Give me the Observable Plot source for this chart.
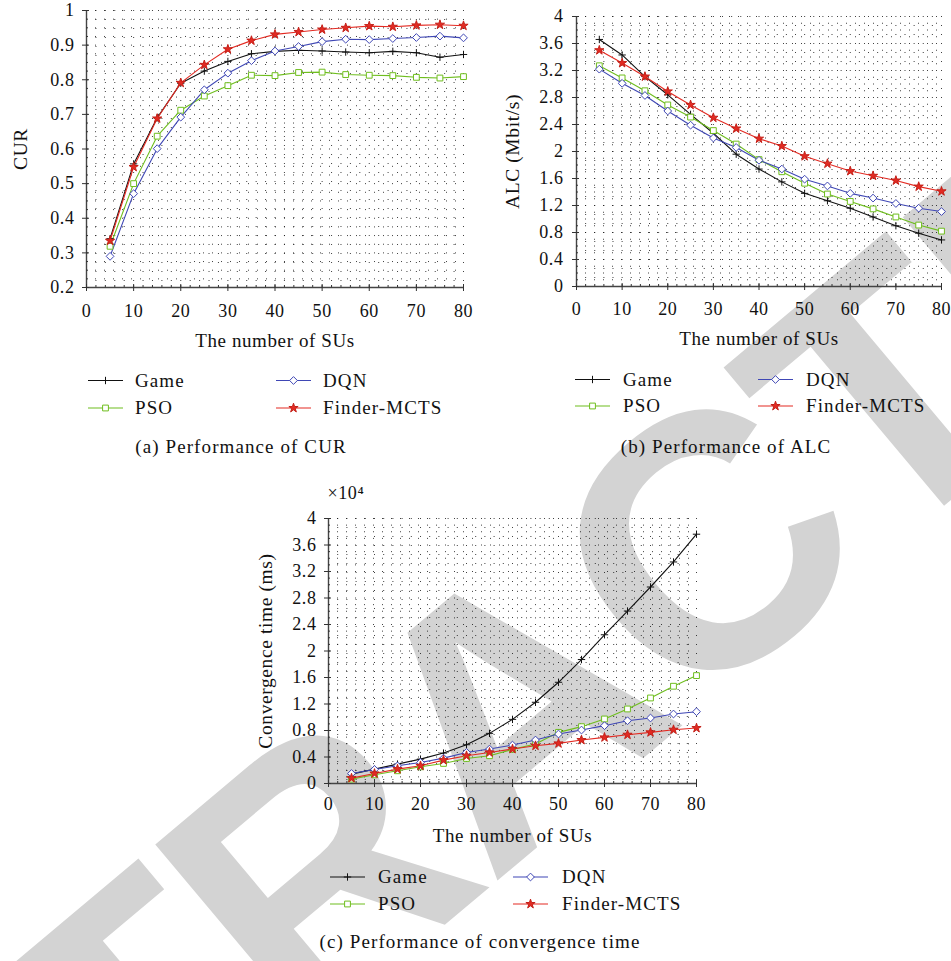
<!DOCTYPE html>
<html>
<head>
<meta charset="utf-8">
<script src="https://cdn.jsdelivr.net/npm/d3@7"></script>
<script src="https://cdn.jsdelivr.net/npm/@observablehq/plot@0.6"></script>
<style>
  html, body { margin: 0; padding: 0; background: #fff; }
  #root { position: relative; width: 951px; height: 961px; overflow: hidden; background: #fff; }
  .layer { position: absolute; }
</style>
</head>
<body>
<div id="root"></div>
<script>
// ---------- data ----------
const suCounts = [5, 10, 15, 20, 25, 30, 35, 40, 45, 50, 55, 60, 65, 70, 75, 80];
const methods = ["Game", "PSO", "DQN", "Finder-MCTS"];
const methodColors = ["#111111", "#6fbe1e", "#3f47b5", "#e32a22"];

const curGame = [0.341, 0.557, 0.690, 0.790, 0.825, 0.853, 0.875, 0.882, 0.885, 0.883, 0.880, 0.878, 0.882, 0.878, 0.865, 0.873];
const curPSO  = [0.319, 0.500, 0.637, 0.712, 0.753, 0.783, 0.813, 0.812, 0.821, 0.822, 0.815, 0.813, 0.812, 0.807, 0.805, 0.809];
const curDQN  = [0.290, 0.471, 0.601, 0.692, 0.771, 0.819, 0.855, 0.883, 0.896, 0.910, 0.917, 0.916, 0.919, 0.922, 0.926, 0.921];
const curMCTS = [0.335, 0.548, 0.688, 0.791, 0.843, 0.888, 0.913, 0.931, 0.938, 0.945, 0.950, 0.955, 0.953, 0.957, 0.959, 0.956];

const alcGame = [3.66, 3.43, 3.11, 2.84, 2.55, 2.27, 1.96, 1.74, 1.55, 1.38, 1.27, 1.16, 1.03, 0.90, 0.79, 0.69];
const alcPSO  = [3.27, 3.09, 2.90, 2.69, 2.51, 2.31, 2.11, 1.88, 1.70, 1.53, 1.37, 1.26, 1.15, 1.03, 0.91, 0.82];
const alcDQN  = [3.22, 3.01, 2.83, 2.60, 2.39, 2.20, 2.06, 1.87, 1.74, 1.59, 1.49, 1.38, 1.31, 1.23, 1.16, 1.11];
const alcMCTS = [3.50, 3.31, 3.11, 2.89, 2.69, 2.50, 2.34, 2.19, 2.08, 1.93, 1.82, 1.71, 1.64, 1.57, 1.48, 1.41];

// convergence time in ms
const convGame = [1410, 2170, 2930, 3680, 4590, 5850, 7570, 9680, 12260, 15280, 18710, 22450, 26030, 29660, 33440, 37630];
const convPSO  = [660, 1310, 1920, 2520, 3030, 3780, 4190, 5150, 5950, 7720, 8580, 9740, 11250, 12910, 14680, 16290];
const convDQN  = [1510, 2120, 2670, 3180, 3830, 4690, 5200, 5800, 6560, 7470, 8070, 8730, 9480, 9890, 10490, 10840];
const convMCTS = [810, 1510, 2170, 2670, 3530, 4190, 4690, 5200, 5700, 6050, 6560, 6960, 7360, 7720, 8120, 8370];

const xTickValues = [0, 10, 20, 30, 40, 50, 60, 70, 80];
const curTickValues = [0.2, 0.3, 0.4, 0.5, 0.6, 0.7, 0.8, 0.9, 1];
const alcTickValues = [0, 0.4, 0.8, 1.2, 1.6, 2, 2.4, 2.8, 3.2, 3.6, 4];
const convTickValues = [0, 0.4, 0.8, 1.2, 1.6, 2, 2.4, 2.8, 3.2, 3.6, 4];

const xAxisTitle = "The number of SUs";
const yTitles = ["CUR", "ALC (Mbit/s)", "Convergence time (ms)"];
const captions = ["(a) Performance of CUR", "(b) Performance of ALC", "(c) Performance of convergence time"];
const convMultiplier = "×10⁴";
const watermarkText = "RETRACTED";

// ---------- helpers ----------
const xMinor = d3.range(0, 81, 2);
const curMinor = d3.range(8, 41).map(i => +(i * 0.025).toFixed(3));
const tenthMinor = d3.range(0, 41).map(i => +(i * 0.1).toFixed(2));

const symbolNames = ["plus", "square2", "diamond2", "star"];
const symbolR = [2.5, 3.7, 3.5, 2.9];
const symbolFill = ["none", "white", "white", "#e32a22"];
const symbolStroke = ["#111111", "#6fbe1e", "#3f47b5", "#c42018"];
const d3Symbols = [d3.symbolPlus, d3.symbolSquare2, d3.symbolDiamond2, d3.symbolStar];

const serif = '"Liberation Serif", "Times New Roman", serif';
const fmt = d3.format("~g");

function buildPanel(cfg) {
  const rows = [];
  methods.forEach((m, i) => cfg.series[i].forEach((v, j) => rows.push({method: m, su: suCounts[j], value: v / cfg.div})));
  const gridStyle = {stroke: "#111", strokeOpacity: 0.8, strokeDasharray: "1,8", strokeWidth: 1};
  const marks = [
    Plot.gridX(xMinor, gridStyle),
    Plot.gridY(cfg.yMinor, gridStyle),
    Plot.ruleX([0], {stroke: "#444", strokeWidth: 1.4}),
    Plot.ruleY([cfg.yDomain[0]], {stroke: "#444", strokeWidth: 1.4}),
    Plot.axisX(xMinor, {tickSize: 2, dy: -2, fill: "none", stroke: "#333"}),
    Plot.axisX(xTickValues, {tickSize: 7, dy: -3, fill: "none", stroke: "#333"}),
    Plot.axisX(xTickValues, {tickSize: 0, tickPadding: cfg.xPad, stroke: "none", label: null, tickFormat: fmt, fill: "#111"}),
    Plot.axisY(cfg.yMinor, {tickSize: 2, dx: 2, fill: "none", stroke: "#333"}),
    Plot.axisY(cfg.yTicks, {tickSize: 7, dx: 3, fill: "none", stroke: "#333"}),
    Plot.axisY(cfg.yTicks, {tickSize: 0, tickPadding: cfg.yPad, stroke: "none", label: null, tickFormat: fmt, fill: "#111"}),
    Plot.text([cfg.yLabel], {text: d => d, frameAnchor: "left", textAnchor: "middle", dx: cfg.yLabelDx, rotate: -90, lineAnchor: "middle", fontSize: 19.5, fill: "#111"}),
    Plot.text([xAxisTitle], {text: d => d, frameAnchor: "bottom", textAnchor: "middle", dy: cfg.xLabelDy, lineAnchor: "middle", fontSize: 19, fill: "#111"}),
    ...(cfg.extra || []),
    Plot.line(rows, {x: "su", y: "value", z: "method", stroke: "method", strokeWidth: 1.1}),
    ...methods.map((m, i) => Plot.dot(rows.filter(d => d.method === m), {
      x: "su", y: "value", symbol: symbolNames[i], r: symbolR[i],
      stroke: symbolStroke[i], fill: symbolFill[i], strokeWidth: 1
    }))
  ];
  return Plot.plot({
    width: cfg.width, height: cfg.height,
    marginLeft: cfg.ml, marginRight: cfg.mr, marginTop: cfg.mt, marginBottom: cfg.mb,
    style: {fontFamily: serif, fontSize: "18px", letterSpacing: "0.6px", background: "transparent", overflow: "visible", color: "#111"},
    x: {domain: [0, 80], label: null},
    y: {domain: cfg.yDomain, label: null},
    color: {domain: methods, range: methodColors},
    marks
  });
}

const root = document.getElementById("root");

// watermark (behind everything)
const wm = d3.select(root).append("svg").attr("class", "layer")
  .attr("width", 951).attr("height", 961).style("left", "0px").style("top", "0px");
wm.append("text")
  .attr("transform", "translate(505,706) rotate(-40)")
  .attr("text-anchor", "middle").attr("dy", "0.358em")
  .attr("font-family", '"Liberation Sans", Arial, sans-serif').attr("font-weight", "bold")
  .attr("font-size", 360).attr("letter-spacing", "-6px").attr("fill", "#d3d3d3")
  .text(watermarkText);

const panels = [
  {left: 0, top: 0, width: 480, height: 330, ml: 86, mr: 17, mt: 10, mb: 43,
   series: [curGame, curPSO, curDQN, curMCTS], div: 1, yDomain: [0.2, 1], yTicks: curTickValues, yMinor: curMinor,
   yLabel: yTitles[0], yLabelDx: -66, xLabelDy: 53, xPad: 17, yPad: 12},
  {left: 480, top: 0, width: 471, height: 330, ml: 96, mr: 10, mt: 16, mb: 44,
   series: [alcGame, alcPSO, alcDQN, alcMCTS], div: 1, yDomain: [0, 4], yTicks: alcTickValues, yMinor: tenthMinor,
   yLabel: yTitles[1], yLabelDx: -64, xLabelDy: 52, xPad: 15.5, yPad: 13},
  {left: 240, top: 480, width: 480, height: 360, ml: 88, mr: 24, mt: 38, mb: 57,
   series: [convGame, convPSO, convDQN, convMCTS], div: 1e4, yDomain: [0, 4], yTicks: convTickValues, yMinor: tenthMinor,
   yLabel: yTitles[2], yLabelDx: -63, xLabelDy: 52, xPad: 13.5, yPad: 12,
   extra: [Plot.text([convMultiplier], {text: d => d, frameAnchor: "top-left", dx: -1, dy: -20, textAnchor: "start", lineAnchor: "bottom", fontSize: 18, fill: "#111"})]}
];

panels.forEach(p => {
  const svg = buildPanel(p);
  svg.classList.add("layer");
  svg.style.left = p.left + "px";
  svg.style.top = p.top + "px";
  root.appendChild(svg);
});

// legends and captions overlay
const ov = d3.select(root).append("svg").attr("class", "layer")
  .attr("width", 951).attr("height", 961).style("left", "0px").style("top", "0px")
  .style("pointer-events", "none")
  .style("font-family", serif).style("letter-spacing", "1.1px");

const legendSpecs = [
  {col: [88, 276], txt: [135, 323], line: [380.5, 408], base: [386.5, 413.5], cap: [241, 453]},
  {col: [575, 758], txt: [623, 806], line: [379.5, 406], base: [385.5, 412], cap: [726, 453]},
  {col: [330, 513], txt: [378, 562], line: [877, 904], base: [883, 910], cap: [480, 948]}
];
// [col,row] for methods in order Game, PSO, DQN, Finder-MCTS
const legendPos = [[0, 0], [0, 1], [1, 0], [1, 1]];

legendSpecs.forEach((s, k) => {
  methods.forEach((m, i) => {
    const [c, r] = legendPos[i];
    const x0 = s.col[c], y0 = s.line[r];
    ov.append("line").attr("x1", x0).attr("x2", x0 + 35).attr("y1", y0).attr("y2", y0)
      .attr("stroke", methodColors[i]).attr("stroke-width", 1.1);
    ov.append("path")
      .attr("d", d3.symbol(d3Symbols[i], symbolR[i] * symbolR[i] * Math.PI)())
      .attr("transform", `translate(${x0 + 17.5},${y0})`)
      .attr("fill", symbolFill[i]).attr("stroke", symbolStroke[i]).attr("stroke-width", 1);
    ov.append("text").attr("x", s.txt[c]).attr("y", s.base[r])
      .attr("font-size", 19).attr("fill", "#111").text(m);
  });
  ov.append("text").attr("x", s.cap[0]).attr("y", s.cap[1]).attr("text-anchor", "middle")
    .attr("font-size", 19).attr("fill", "#111").text(captions[k]);
});
</script>
</body>
</html>
